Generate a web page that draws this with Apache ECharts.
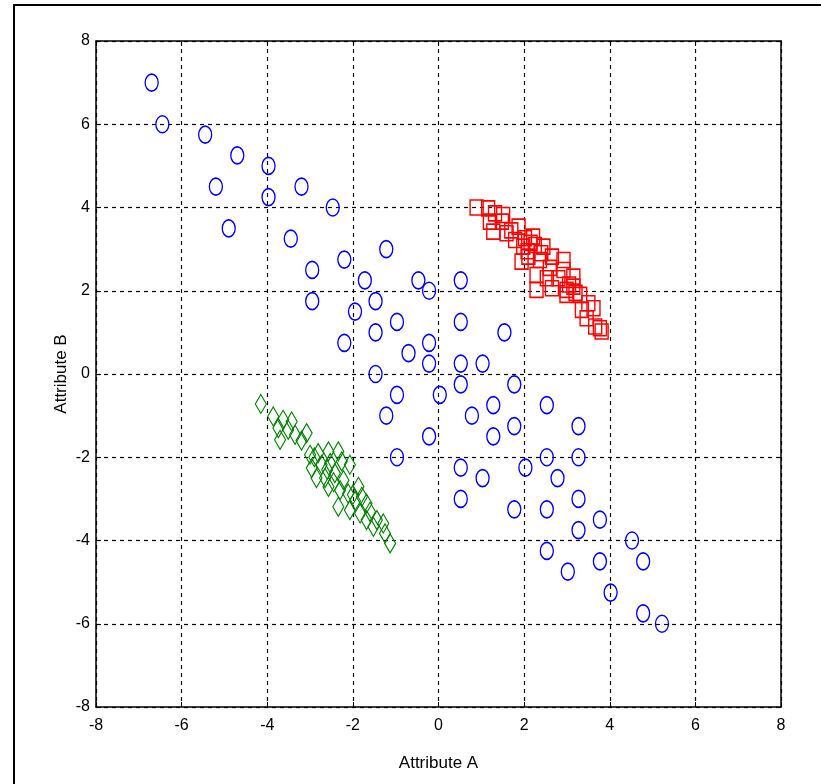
<!DOCTYPE html>
<html>
<head>
<meta charset="utf-8">
<script src="https://cdn.jsdelivr.net/npm/echarts@6/dist/echarts.min.js"></script>
<style>
html,body{margin:0;padding:0;background:#fff;}
#chart{width:821px;height:784px;}
</style>
</head>
<body>
<div id="chart"></div>
<script>
// Axis ticks
var xTicks = [-8, -6, -4, -2, 0, 2, 4, 6, 8];
var yTicks = [-8, -6, -4, -2, 0, 2, 4, 6, 8];
var xAxisTitle = 'Attribute A';
var yAxisTitle = 'Attribute B';

// Blue circles (spread class)
var circlePoints = [
  [-6.7,7],[-6.45,6],[-5.45,5.75],[-4.7,5.25],[-3.97,5],[-5.2,4.5],[-3.97,4.25],[-3.2,4.5],[-2.47,4],
  [-4.9,3.5],[-3.45,3.25],[-1.22,3],[-2.2,2.75],[-2.95,2.5],[-1.72,2.25],[-0.47,2.25],[-0.22,2],[0.52,2.25],
  [-2.95,1.75],[-1.47,1.75],[-1.95,1.5],[-0.97,1.25],[0.52,1.25],[1.54,1],[-1.47,1],[-2.2,0.75],[-0.22,0.75],
  [-0.7,0.5],[-0.22,0.25],[0.52,0.25],[1.03,0.25],[-1.47,0],[0.52,-0.25],[1.77,-0.25],[-0.97,-0.5],[0.03,-0.5],
  [-1.22,-1],[0.78,-1],[1.28,-0.75],[2.53,-0.75],[-0.22,-1.5],[1.28,-1.5],[1.77,-1.25],[3.27,-1.25],
  [-0.97,-2],[2.53,-2],[3.27,-2],[0.52,-2.25],[2.03,-2.25],[1.03,-2.5],[2.78,-2.5],[0.52,-3],[3.27,-3],
  [1.77,-3.25],[2.53,-3.25],[3.77,-3.5],[3.27,-3.75],[4.52,-4],[2.53,-4.25],[3.77,-4.5],[4.78,-4.5],
  [3.02,-4.75],[4.02,-5.25],[4.78,-5.75],[5.22,-6]
];

// Red squares (upper-right class)
var squarePoints = [
  [0.89,4.0],[1.16,3.98],[1.32,3.86],[1.51,3.82],[1.2,3.66],[1.48,3.66],[1.28,3.42],[1.59,3.38],
  [1.87,3.54],[1.79,3.22],[2.02,3.26],[2.21,3.3],[1.98,3.06],[2.25,3.1],[2.45,3.06],[1.94,2.7],
  [2.1,2.82],[2.37,2.74],[2.65,2.82],[2.92,2.74],[2.29,2.38],[2.53,2.3],[2.92,2.5],[3.15,2.34],
  [2.29,2.02],[2.65,2.06],[2.99,2.02],[3.15,2.1],[3.31,1.9],[2.99,1.9],[3.35,1.54],[3.62,1.58],
  [3.46,1.34],[3.77,1.1],[3.81,1.02],[3.66,1.14],[2.08,2.95],[2.4,2.9],[2.6,2.55],[2.8,2.3],
  [3.05,2.15],[3.2,1.95],[1.7,3.45],[2.15,3.15],[3.5,1.7]
];

// Green diamonds (lower-left class)
var diamondPoints = [
  [-4.15,-0.72],[-3.86,-1.02],[-3.63,-1.1],[-3.43,-1.14],[-3.74,-1.3],[-3.51,-1.34],[-3.7,-1.58],
  [-3.35,-1.46],[-3.08,-1.42],[-3.0,-1.94],[-2.81,-1.9],[-2.57,-1.86],[-2.34,-1.86],[-2.96,-2.26],
  [-2.73,-2.18],[-2.53,-2.14],[-2.26,-2.1],[-2.07,-2.18],[-2.85,-2.5],[-2.65,-2.5],[-2.42,-2.38],
  [-2.22,-2.55],[-2.57,-2.71],[-2.3,-2.79],[-2.11,-2.87],[-1.87,-2.71],[-2.34,-3.19],[-2.07,-3.27],
  [-1.79,-2.95],[-1.68,-3.11],[-1.83,-3.35],[-1.6,-3.31],[-1.68,-3.51],[-1.44,-3.51],[-1.52,-3.67],
  [-1.29,-3.59],[-1.25,-3.83],[-1.13,-4.07],[-2.9,-2.0],[-2.6,-2.3],[-2.45,-2.6],[-2.0,-2.9],
  [-3.2,-1.6],[-1.95,-3.05]
];

var FONT = "'Liberation Sans Narrow', 'Liberation Sans', Arial, sans-serif";
var ellipsePath = 'path://M0,-10 A7.5,10 0 1,1 0,10 A7.5,10 0 1,1 0,-10 Z';

var chart = echarts.init(document.getElementById('chart'), null, {renderer: 'canvas'});

function valAxis(pos, show, name, ticks, extra) {
  var a = {
    type: 'value', position: pos, min: ticks[0], max: ticks[ticks.length - 1], interval: 2,
    axisLine: {show: true, onZero: false, lineStyle: {color: '#000', width: 1.5}},
    axisTick: {show: true, inside: true, length: 5, lineStyle: {color: '#000', width: 1}},
    axisLabel: {show: show, color: '#000', fontFamily: FONT, fontSize: 16, margin: 8},
    splitLine: {show: false}
  };
  if (name) { a.name = name; }
  return Object.assign(a, extra || {});
}

var option = {
  backgroundColor: '#fff',
  animation: false,
  grid: {left: 96, right: 40, top: 41, bottom: 77, show: false},
  graphic: [
    {type: 'polyline', shape: {points: [[14, 784], [14, 5], [821, 5]]},
     style: {stroke: '#000', lineWidth: 2, fill: null}, silent: true}
  ],
  xAxis: [
    valAxis('bottom', true, xAxisTitle, xTicks, {
      nameLocation: 'middle', nameGap: 48,
      nameTextStyle: {color: '#000', fontFamily: FONT, fontSize: 17},
      axisLabel: {show: true, color: '#000', fontFamily: FONT, fontSize: 16, margin: 11},
      splitLine: {show: true, lineStyle: {color: '#000', type: [4, 4], width: 1.2}}
    }),
    valAxis('top', false, null, xTicks)
  ],
  yAxis: [
    valAxis('left', true, yAxisTitle, yTicks, {
      nameLocation: 'middle', nameGap: 26, nameRotate: 90, nameMoveOverlap: false,
      nameTextStyle: {color: '#000', fontFamily: FONT, fontSize: 17},
      axisLabel: {show: true, color: '#000', fontFamily: FONT, fontSize: 16, margin: 6},
      splitLine: {show: true, lineStyle: {color: '#000', type: [4, 4], width: 1.2}}
    }),
    valAxis('right', false, null, yTicks)
  ],
  series: [
    {
      type: 'scatter', data: circlePoints, symbol: ellipsePath, symbolSize: [13, 17],
      itemStyle: {color: 'rgba(0,0,0,0)', borderColor: '#0000ff', borderWidth: 1.5, opacity: 1}
    },
    {
      type: 'scatter', data: squarePoints, symbol: 'rect', symbolSize: [13, 15],
      itemStyle: {color: 'rgba(0,0,0,0)', borderColor: '#ff0000', borderWidth: 1.5, opacity: 1}
    },
    {
      type: 'scatter', data: diamondPoints, symbol: 'diamond', symbolSize: [11, 19],
      itemStyle: {color: 'rgba(0,0,0,0)', borderColor: '#008000', borderWidth: 1.2, opacity: 1}
    }
  ]
};
chart.setOption(option);
</script>
</body>
</html>
